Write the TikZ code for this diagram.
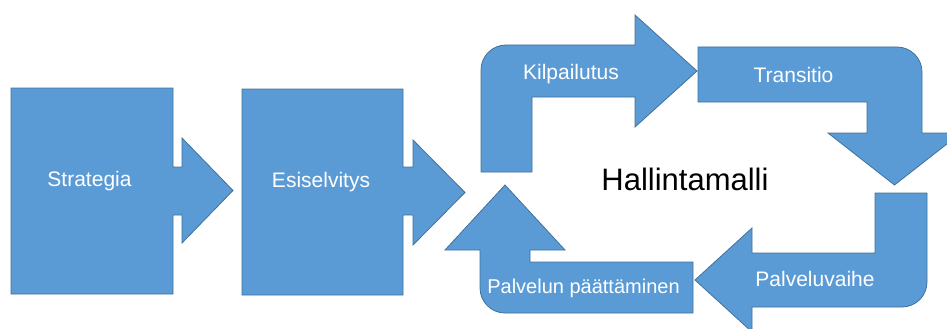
\documentclass[tikz,border=0pt]{standalone}
\usepackage{fontspec}
\setmainfont{Liberation Sans}
\usepackage{tikz}
\usetikzlibrary{positioning}
\definecolor{boxblue}{RGB}{91,155,213}
\definecolor{edgeblue}{RGB}{65,113,156}
\begin{document}
\begin{tikzpicture}[x=1pt,y=-1pt,
arrowshape/.style={fill=boxblue,draw=edgeblue,line width=0.8pt,line join=miter},
whitetext/.style={text=white,anchor=base,inner sep=0pt,font=\fontsize{21}{25}\selectfont},
bigtext/.style={text=black,anchor=base,inner sep=0pt,font=\fontsize{31}{37}\selectfont}]
\path[use as bounding box] (0,0) rectangle (947,329);
\clip (0,0) rectangle (947,329);
\path[arrowshape] (11,88) -- (173,88) -- (173,167) -- (182,167) -- (182,138) -- (233,190.5)
  -- (182,243) -- (182,215) -- (173,215) -- (173,294) -- (11,294) -- cycle;
\path[arrowshape] (242,89) -- (403,89) -- (403,167) -- (413,167) -- (413,140) -- (465,192.5)
  -- (413,245) -- (413,215) -- (403,215) -- (403,295) -- (242,295) -- cycle;
\path[arrowshape] (481,172) -- (481,70) .. controls (481,56.2) and (492.2,45) .. (506,45)
  -- (635,45) -- (635,15) -- (697,71) -- (635,127) -- (635,97) -- (532,97) -- (532,172) -- cycle;
\path[arrowshape] (698,47) -- (897,47) .. controls (910.8,47) and (922,58.2) .. (922,72)
  -- (922,133) -- (961,133) -- (894.5,185) -- (828,133) -- (867,133) -- (867,102) -- (698,102) -- cycle;
\path[arrowshape] (875,193) -- (927,193) -- (927,282) .. controls (927,295.8) and (915.8,307) .. (902,307)
  -- (752,307) -- (752,332) -- (695,280) -- (752,228) -- (752,253) -- (875,253) -- cycle;
\path[arrowshape] (693,262) -- (693,313) -- (505,313) .. controls (491.2,313) and (480,301.8) .. (480,288)
  -- (480,250) -- (445,250) -- (505,185) -- (565,250) -- (530,250) -- (530,262) -- cycle;
\node[whitetext] (strategia) at (89.5,186) {Strategia};
\node[whitetext] (esiselvitys) at (321,187) {Esiselvitys};
\node[whitetext] (kilpailutus) at (571,79) {Kilpailutus};
\node[whitetext] (transitio) at (793.5,82) {Transitio};
\node[whitetext] (palveluvaihe) at (815,286) {Palveluvaihe};
\node[whitetext,font=\fontsize{20}{24}\selectfont] (paattaminen) at (583.5,293) {Palvelun päättäminen};
\node[bigtext] (hallinta) at (685,190) {Hallintamalli};
\end{tikzpicture}
\end{document}
